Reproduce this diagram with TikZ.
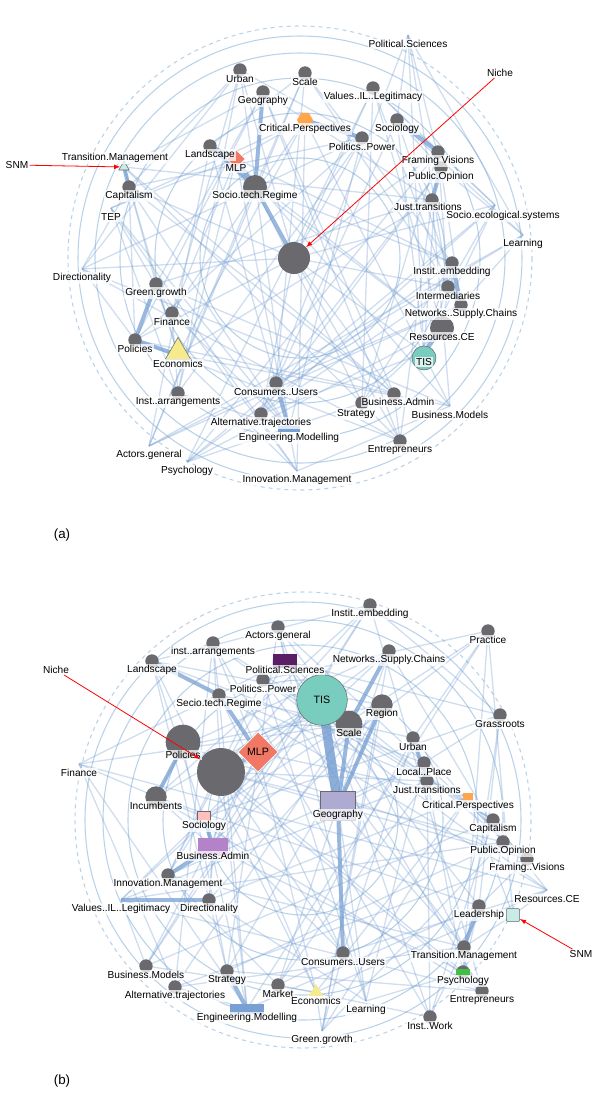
\documentclass[tikz,border=0pt]{standalone}
\usepackage{fontspec}
\setmainfont{Liberation Sans}
\usetikzlibrary{shapes.geometric}
\definecolor{ringblue}{RGB}{185,210,232}
\definecolor{edgeblue}{RGB}{120,160,210}
\definecolor{dotgray}{RGB}{105,105,110}
\definecolor{tisteal}{RGB}{120,205,190}
\definecolor{mlpred}{RGB}{240,120,100}
\definecolor{ecoyellow}{RGB}{245,235,140}
\definecolor{geolav}{RGB}{175,170,210}
\definecolor{bapurple}{RGB}{180,130,200}
\definecolor{psdark}{RGB}{90,30,100}
\tikzset{
  ring/.style={ringblue, line width=0.8pt},
  edge/.style={edgeblue, opacity=0.35, line width=1pt},
  heavy/.style={edgeblue, opacity=0.75, line width=3pt},
  dot/.style={circle, fill=dotgray, inner sep=0pt, minimum size=10pt},
  lbl/.style={font=\fontsize{7.6}{9}\selectfont, fill=white, fill opacity=0.75, text opacity=1, inner sep=0.8pt},
  callout/.style={red, -latex, line width=0.6pt},
}
\begin{document}
\begin{tikzpicture}[x=0.75pt, y=-0.75pt]
\useasboundingbox (0,0) rectangle (613,1107);

% ---------- panel (a) ----------
\foreach \r in {222,205,180,145,100} \draw[ring] (300,258) circle (\r);
\draw[ring, dashed] (300,258) circle (232);

\coordinate (a0) at (294,258);
\foreach \i/\x/\y in {1/408/44, 2/240/79, 3/305/82, 4/263/101, 5/373/97, 6/305/129,
  7/397/129, 8/362/147, 9/210/155, 10/124/176, 11/438/161, 12/236/168, 13/441/177,
  14/129/196, 15/255/196, 16/432/209, 17/495/214, 18/111/217, 19/523/244, 20/82/278,
  21/452/272, 22/156/293, 23/448/296, 24/172/322, 25/461/314, 26/135/349, 27/442/337,
  28/178/364, 29/424/362, 30/178/402, 31/276/392, 32/394/403, 33/362/412, 34/450/415,
  35/261/423, 36/289/438, 37/149/455, 38/400/450, 39/187/471, 40/297/480}
  \coordinate (a\i) at (\x,\y-9);

% light edges
\foreach \i in {1,...,40} {
  \foreach \k in {5,11,17} {
    \pgfmathtruncatemacro\j{mod(\i+\k,40)+1}
    \draw[edge] (a\i) -- (a\j);
  }
}
\foreach \i in {2,5,...,40} \draw[edge] (a0) -- (a\i);
% heavy edges
\foreach \p/\q in {12/15, 9/12, 9/15, 6/8, 7/11, 21/25, 27/29, 26/28, 31/36, 4/15,
  13/16, 0/15, 10/14, 22/26, 23/25}
  \draw[heavy] (a\p) -- (a\q);

% markers
\foreach \i in {2,3,4,5,7,8,9,11,13,14,15,16,21,22,23,24,25,26,27,30,31,32,33,35,38}
  \node[dot] (ma\i) at (a\i) {};
\node[dot, minimum size=24pt] (ma0) at (a0) {};
\node[dot, minimum size=18pt] at (a15) {};
\node[dot, minimum size=18pt] at (a27) {};
\node[regular polygon, regular polygon sides=6, fill=orange!70, inner sep=0pt, minimum size=12pt] at (a6) {};
\node[diamond, fill=mlpred, draw=white, inner sep=0pt, minimum size=14pt] at (a12) {};
\node[regular polygon, regular polygon sides=3, fill=ecoyellow, draw=dotgray, inner sep=0pt, minimum size=22pt] at (178,352) {};
\node[circle, fill=tisteal, draw=dotgray, inner sep=0pt, minimum size=18pt] at (424,358) {};
\node[regular polygon, regular polygon sides=3, fill=tisteal!40, draw=dotgray, inner sep=0pt, minimum size=9pt] (snmA) at (a10) {};
\node[rectangle, fill=edgeblue, inner sep=0pt, minimum width=16pt, minimum height=5pt] at (a36) {};

% labels
\foreach \i/\x/\y/\t in {1/408/44/Political.Sciences, 2/240/79/Urban, 3/305/82/Scale,
  4/263/101/Geography, 5/373/97/Values..IL..Legitimacy, 6/305/129/Critical.Perspectives,
  7/397/129/Sociology, 8/362/147/Politics..Power, 9/210/155/Landscape,
  10/115/158/Transition.Management, 11/438/161/Framing Visions, 12/236/168/MLP,
  13/441/177/Public.Opinion, 14/129/196/Capitalism, 15/255/196/Socio.tech.Regime,
  16/428/207/Just.transitions, 17/503/216/Socio.ecological.systems, 18/111/217/TEP,
  19/523/244/Learning, 20/82/278/Directionality, 21/452/272/Instit..embedding,
  22/156/293/Green.growth, 23/448/296/Intermediaries, 24/172/322/Finance,
  25/461/314/Networks..Supply.Chains, 26/135/349/Policies, 27/442/337/Resources.CE,
  28/178/364/Economics, 29/424/362/TIS, 30/178/402/Inst..arrangements,
  31/276/392/Consumers..Users, 32/398/402/Business.Admin, 33/356/414/Strategy,
  34/450/415/Business.Models, 35/261/423/Alternative.trajectories,
  36/289/438/Engineering.Modelling, 37/149/455/Actors.general, 38/400/450/Entrepreneurs,
  39/187/471/Psychology, 40/297/480/Innovation.Management}
  \node[lbl] (la\i) at (\x,\y) {\t};

\node[lbl] (snmLblA) at (17,165) {SNM};
\node[lbl] (nicheLblA) at (500,73) {Niche};
\draw[callout] (snmLblA) -- (snmA);
\draw[callout] (nicheLblA) -- (ma0);
\node[font=\fontsize{10}{12}\selectfont] (capA) at (62,535) {(a)};

% ---------- panel (b) ----------
\foreach \r in {218,200,175,140,95} \draw[ring] (303,820) circle (\r);
\draw[ring, dashed] (303,820) circle (228);

\coordinate (b0) at (221,772);
\foreach \i/\x/\y in {1/370/614, 2/278/636, 3/488/640, 4/213/652, 5/389/660, 6/152/670,
  7/285/670, 8/263/689, 9/219/704, 10/322/709, 11/382/714, 12/500/724, 13/349/733,
  14/413/747, 15/258/762, 16/183/755, 17/424/772, 18/79/773, 19/427/790, 20/468/806,
  21/156/806, 22/338/815, 23/204/826, 24/493/829, 25/503/851, 26/213/856, 27/527/868,
  28/168/884, 29/547/899, 30/121/909, 31/209/909, 32/479/915, 33/464/956, 34/343/962,
  35/146/975, 36/227/980, 37/463/981, 38/175/996, 39/278/994, 40/316/1001, 41/482/1000,
  42/366/1010, 43/247/1018, 44/430/1026, 45/322/1040}
  \coordinate (b\i) at (\x,\y-9);
\coordinate (b46) at (513,915);

\foreach \i in {1,...,45} {
  \foreach \k in {4,10,19} {
    \pgfmathtruncatemacro\j{mod(\i+\k,45)+1}
    \draw[edge] (b\i) -- (b\j);
  }
}
\foreach \i in {1,4,...,45} \draw[edge] (b0) -- (b\i);
\foreach \i in {3,20,29,33} \draw[edge] (b46) -- (b\i);
\draw[edgeblue, opacity=0.85, line width=7pt] (b10) -- (b22);
\foreach \p/\q in {13/22, 11/22, 15/9, 16/21, 26/23, 28/26, 14/19, 10/13, 36/43,
  30/31, 33/32, 6/9, 5/13, 0/15, 0/16, 22/34}
  \draw[heavy] (b\p) -- (b\q);

\foreach \i in {1,2,3,4,5,6,8,9,11,12,13,14,17,19,21,24,25,27,28,31,32,33,34,35,36,37,38,39,41,44}
  \node[dot] (mb\i) at (b\i) {};
\node[dot, minimum size=36pt] (mb0) at (b0) {};
\node[dot, minimum size=26pt] at (183,742) {};
\node[dot, minimum size=20pt] at (b13) {};
\node[dot, minimum size=16pt] at (b11) {};
\node[dot, minimum size=16pt] at (b21) {};
\node[rectangle, fill=psdark, inner sep=0pt, minimum width=18pt, minimum height=10pt] at (b7) {};
\node[rectangle, fill=geolav, draw=dotgray, inner sep=0pt, minimum width=26pt, minimum height=22pt] at (b22) {};
\node[rectangle, fill=bapurple, inner sep=0pt, minimum width=22pt, minimum height=14pt] at (b26) {};
\node[rectangle, fill=pink, draw=dotgray, inner sep=0pt, minimum width=10pt, minimum height=8pt] at (b23) {};
\node[rectangle, fill=edgeblue, inner sep=0pt, minimum width=26pt, minimum height=8pt] at (b43) {};
\node[regular polygon, regular polygon sides=3, fill=ecoyellow, inner sep=0pt, minimum size=12pt] at (b40) {};
\node[rectangle, fill=green!50!gray, inner sep=0pt, minimum width=10pt, minimum height=5pt] at (b37) {};
\node[rectangle, fill=orange!70, inner sep=0pt, minimum width=8pt, minimum height=6pt] at (b20) {};
\node[circle, fill=tisteal, draw=dotgray, inner sep=0pt, minimum size=38pt] (mb10) at (322,700) {};
\node[diamond, fill=mlpred, draw=white, inner sep=0pt, minimum size=30pt] (mb15) at (258,752) {};
\node[rectangle, rounded corners=1.5pt, fill=tisteal!40, draw=dotgray, inner sep=0pt, minimum size=10pt] (snmB) at (b46) {};

\foreach \i/\x/\y/\t in {1/370/614/Instit..embedding, 2/278/636/Actors.general,
  3/488/640/Practice, 4/213/652/inst..arrangements, 5/389/660/Networks..Supply.Chains,
  6/152/670/Landscape, 7/285/670/Political.Sciences, 8/263/689/Politics..Power,
  9/219/704/Secio.tech.Regime, 11/382/714/Region, 12/500/724/Grassroots,
  13/349/733/Scale, 14/413/747/Urban, 16/183/755/Policies, 17/424/772/Local..Place,
  18/79/773/Finance, 19/427/790/Just.transitions, 20/468/806/Critical.Perspectives,
  21/156/806/Incumbents, 22/338/815/Geography, 23/204/826/Sociology,
  24/493/829/Capitalism, 25/503/851/Public.Opinion, 26/213/856/Business.Admin,
  27/527/868/Framing..Visions, 28/168/884/Innovation.Management, 29/547/899/Resources.CE,
  30/121/909/Values..IL..Legitimacy, 31/209/909/Directionality, 32/479/915/Leadership,
  33/464/956/Transition.Management, 34/343/962/Consumers..Users,
  35/146/975/Business.Models, 36/227/980/Strategy, 37/463/981/Psychology,
  38/175/996/Alternative.trajectories, 39/278/994/Market, 40/316/1001/Economics,
  41/482/1000/Entrepreneurs, 42/366/1010/Learning, 43/247/1018/Engineering.Modelling,
  44/430/1026/Inst..Work, 45/322/1040/Green.growth}
  \node[lbl] (lb\i) at (\x,\y) {\t};
\node[font=\fontsize{8}{9}\selectfont] (lb10) at (322,700) {TIS};
\node[font=\fontsize{8}{9}\selectfont] (lb15) at (258,752) {MLP};

\node[lbl] (nicheLblB) at (56,670) {Niche};
\node[lbl] (snmLblB) at (581,954) {SNM};
\draw[callout] (nicheLblB) -- (mb0);
\draw[callout] (snmLblB) -- (snmB);
\node[font=\fontsize{10}{12}\selectfont] (capB) at (62,1081) {(b)};
\end{tikzpicture}
\end{document}
